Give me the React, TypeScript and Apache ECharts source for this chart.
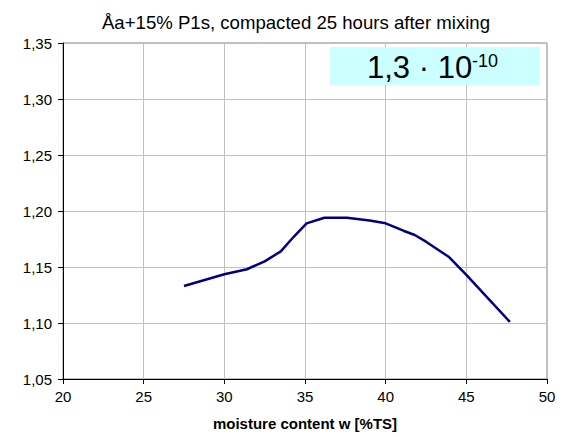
import React, { useEffect, useRef } from "react";
import * as echarts from "echarts";

const titleText = "Åa+15% P1s, compacted 25 hours after mixing";
const xAxisName = "moisture content w [%TS]";
const moisture = [27.5, 30.0, 31.4, 32.5, 33.5, 34.3, 35.1, 36.2, 37.6, 39.0, 40.0, 41.1, 41.8, 42.5, 43.9, 45.0, 47.7];
const density = [1.133, 1.1435, 1.148, 1.155, 1.164, 1.177, 1.189, 1.194, 1.194, 1.1915, 1.189, 1.1824, 1.1786, 1.1726, 1.1592, 1.143, 1.101];
const annotationMain = "1,3 · 10";
const annotationSup = "-10";

const FONT = "'Liberation Sans', Arial, sans-serif";

export default function App() {
  const ref = useRef<HTMLDivElement>(null);
  useEffect(() => {
    if (!ref.current) return;
    const chart = echarts.init(ref.current, null, { renderer: "svg" });
    const data = moisture.map((x, i) => [x, density[i]]);
    chart.setOption({
      animation: false,
      backgroundColor: "#ffffff",
      textStyle: { fontFamily: FONT },
      title: {
        text: titleText,
        left: 291,
        top: 8,
        textAlign: "center",
        textStyle: { fontFamily: FONT, fontSize: 18.6, fontWeight: "normal", color: "#000" },
      },
      grid: {
        left: 63,
        right: 21,
        top: 43,
        bottom: 58,
        show: true,
        borderColor: "#808080",
        borderWidth: 1,
        backgroundColor: "#ffffff",
      },
      xAxis: {
        type: "value",
        min: 20,
        max: 50,
        interval: 5,
        name: xAxisName,
        nameLocation: "middle",
        nameGap: 37,
        nameTextStyle: { fontFamily: FONT, fontSize: 15, fontWeight: "bold", color: "#000" },
        axisLine: { show: true, lineStyle: { color: "#000", width: 1 } },
        axisTick: { show: true, inside: false, length: 5, lineStyle: { color: "#000" } },
        axisLabel: { fontFamily: FONT, fontSize: 15, color: "#000", margin: 10 },
        splitLine: { show: true, lineStyle: { color: "#c0c0c0", width: 1 } },
      },
      yAxis: {
        type: "value",
        min: 1.05,
        max: 1.35,
        interval: 0.05,
        axisLine: { show: true, lineStyle: { color: "#000", width: 1 } },
        axisTick: { show: true, inside: false, length: 5, lineStyle: { color: "#000" } },
        axisLabel: {
          fontFamily: FONT,
          fontSize: 15,
          color: "#000",
          margin: 11,
          formatter: (v: number) => v.toFixed(2).replace(".", ","),
        },
        splitLine: { show: true, lineStyle: { color: "#c0c0c0", width: 1 } },
      },
      series: [
        {
          type: "line",
          data,
          showSymbol: false,
          symbol: "none",
          lineStyle: { color: "#000080", width: 2.5 },
          z: 5,
        },
      ],
      graphic: [
        {
          type: "rect",
          shape: { x: 330, y: 47, width: 210, height: 38 },
          style: { fill: "#ccffff" },
          z: 10,
        },
        {
          type: "text",
          x: 367,
          y: 67,
          style: {
            text: annotationMain,
            font: `31px ${FONT}`,
            fill: "#000",
            verticalAlign: "middle",
          },
          z: 11,
        },
        {
          type: "text",
          x: 472,
          y: 61,
          style: {
            text: annotationSup,
            font: `18px ${FONT}`,
            fill: "#000",
            verticalAlign: "middle",
          },
          z: 11,
        },
      ],
    });
    return () => chart.dispose();
  }, []);
  return (
    <div
      ref={ref}
      style={{ position: "fixed", left: 0, top: 0, width: 568, height: 437 }}
    />
  );
}
